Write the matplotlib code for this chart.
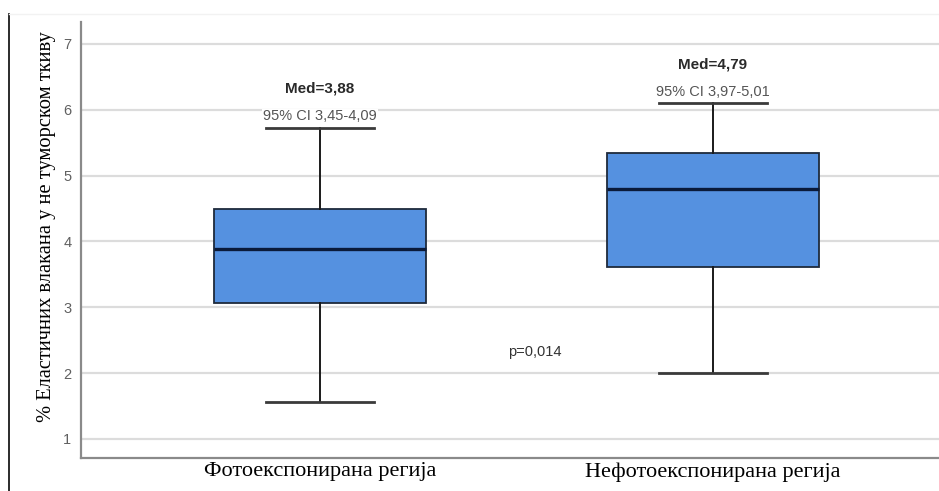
import matplotlib
matplotlib.use("Agg")
import matplotlib.pyplot as plt
from matplotlib.lines import Line2D

# ---- data ----
categories = ["Фотоекспонирана регија", "Нефотоекспонирана регија"]
whisker_low = [1.56, 2.00]
q1 = [3.06, 3.61]
median = [3.88, 4.79]
q3 = [4.49, 5.34]
whisker_high = [5.73, 6.10]
med_labels = ["Med=3,88", "Med=4,79"]
ci_labels = ["95% CI 3,45-4,09", "95% CI 3,97-5,01"]
p_label = "p=0,014"
y_ticks = [1, 2, 3, 4, 5, 6, 7]
y_label = "% Еластичних влакана у не туморском ткиву"

fig = plt.figure(figsize=(9.39, 4.91), dpi=100)
ax = fig.add_axes([0.0863, 0.0672, 0.9137, 0.888])

positions = [1, 2]
stats = []
for i in range(len(categories)):
    stats.append(dict(whislo=whisker_low[i], q1=q1[i], med=median[i],
                      q3=q3[i], whishi=whisker_high[i], fliers=[]))

ax.bxp(stats, positions=positions, widths=0.54, capwidths=0.275,
       patch_artist=True, showfliers=False,
       boxprops=dict(facecolor="#5591e0", edgecolor="#1e2a3c", linewidth=1.3),
       medianprops=dict(color="#0a1a3a", linewidth=2.4),
       whiskerprops=dict(color="#1a1a1a", linewidth=1.4),
       capprops=dict(color="#3a3a3a", linewidth=2.0),
       zorder=3)

ax.set_xlim(0.392, 2.575)
ax.set_ylim(0.711, 7.334)
ax.set_yticks(y_ticks)
ax.set_yticklabels([str(t) for t in y_ticks], fontsize=10.5,
                   family="Liberation Sans", color="#606060")
ax.set_xticks(positions)
ax.set_xticklabels(categories, fontsize=16, family="Liberation Serif",
                   color="black")
ax.tick_params(axis="both", length=0)
ax.tick_params(axis="y", pad=7)
ax.tick_params(axis="x", pad=3)

ax.yaxis.grid(True, color="#dcdcdc", linewidth=1.6, zorder=0)
ax.set_axisbelow(True)
for s in ["top", "right"]:
    ax.spines[s].set_visible(False)
for s in ["left", "bottom"]:
    ax.spines[s].set_color("#8a8a8a")
    ax.spines[s].set_linewidth(1.6)

ax.set_ylabel(y_label, fontsize=14.8, family="Liberation Serif", color="black")
ax.yaxis.set_label_coords(-0.029, 0.53)

for i, pos in enumerate(positions):
    ax.annotate(ci_labels[i], xy=(pos, whisker_high[i]), xytext=(0, 8),
                textcoords="offset points", ha="center", va="center",
                fontsize=10.5, family="Liberation Sans", color="#555555",
                bbox=dict(facecolor="white", edgecolor="none", pad=0.5),
                zorder=5)
    ax.annotate(med_labels[i], xy=(pos, whisker_high[i]), xytext=(0, 28),
                textcoords="offset points", ha="center", va="center",
                fontsize=11, family="Liberation Sans", fontweight="bold",
                color="#2a2a2a", zorder=5)

ax.text(1.547, 2.32, p_label, ha="center", va="center", fontsize=10.5,
        family="Liberation Sans", color="#333333")

# image frame
fig.add_artist(Line2D([8.5 / 939, 8.5 / 939], [0, 1 - 14 / 491],
                      transform=fig.transFigure, color="#1a1a1a", linewidth=1.3))
fig.add_artist(Line2D([8.5 / 939, 1], [1 - 14 / 491, 1 - 14 / 491],
                      transform=fig.transFigure, color="#f2f2f2", linewidth=1.0))

fig.savefig("out.png", dpi=100)
